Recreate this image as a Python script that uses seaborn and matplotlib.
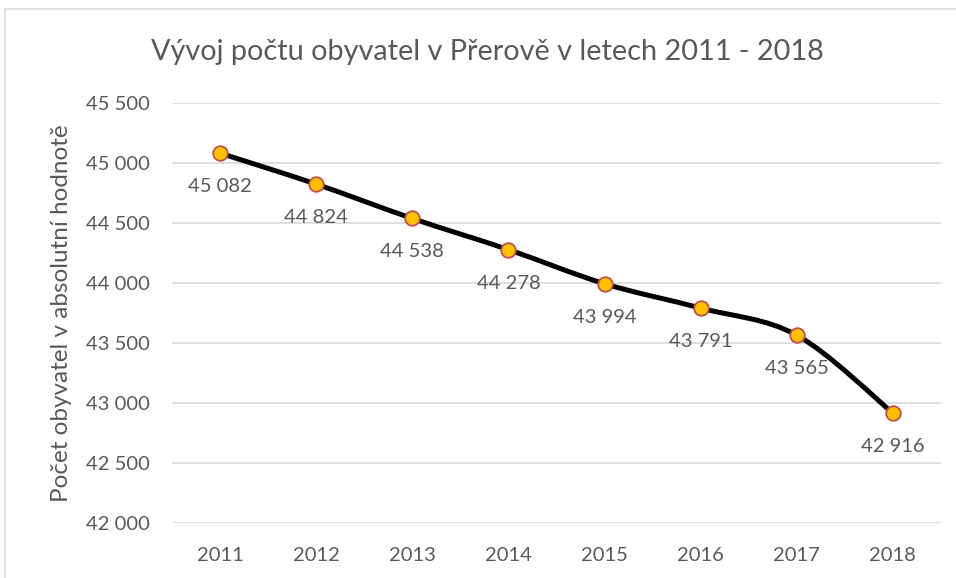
import numpy as np
import pandas as pd
import matplotlib
matplotlib.use("Agg")
import matplotlib.pyplot as plt
import seaborn as sns
from matplotlib.path import Path
from matplotlib.patches import PathPatch

# data
roky = ["2011", "2012", "2013", "2014", "2015", "2016", "2017", "2018"]
obyvatele = [45082, 44824, 44538, 44278, 43994, 43791, 43565, 42916]

title = "Vývoj počtu obyvatel v Přerově v letech 2011 - 2018"
ylabel = "Počet obyvatel v absolutní hodnotě"
yticks = [42000, 42500, 43000, 43500, 44000, 44500, 45000, 45500]

sns.set_style("white")
plt.rcParams["font.family"] = ["Lato", "DejaVu Sans"]

text_col = "#595959"
grid_col = "#D9D9D9"

df = pd.DataFrame({"rok": roky, "pocet": obyvatele})
df["x"] = np.arange(len(df))

fig = plt.figure(figsize=(9.56, 5.78), dpi=100)
ax = fig.add_axes([172 / 956, 1 - 523 / 578, (941 - 172) / 956, (523 - 103) / 578])

# smoothed line (Excel style bezier through the points)
pts = df[["x", "pocet"]].to_numpy(dtype=float)
verts = [pts[0]]
codes = [Path.MOVETO]
n = len(pts)
for i in range(n - 1):
    p0 = pts[max(i - 1, 0)]
    p1 = pts[i]
    p2 = pts[i + 1]
    p3 = pts[min(i + 2, n - 1)]
    c1 = p1 + (p2 - p0) / 6.0
    c2 = p2 - (p3 - p1) / 6.0
    verts += [c1, c2, p2]
    codes += [Path.CURVE4] * 3
ax.add_patch(PathPatch(Path(verts, codes), facecolor="none", edgecolor="black",
                       lw=3.6, capstyle="round", joinstyle="round", zorder=3))

sns.scatterplot(data=df, x="x", y="pocet", ax=ax, s=110, color="#FFC000",
                edgecolor="#C0504D", linewidth=1.3, zorder=4, legend=False)

for _, r in df.iterrows():
    ax.annotate(f"{r['pocet']:,}".replace(",", " "), (r["x"], r["pocet"]),
                xytext=(0, -18), textcoords="offset points", ha="center", va="top",
                fontsize=14.5, color=text_col)

ax.set_xlim(-0.5, n - 0.5)
ax.set_ylim(42000, 45500)
ax.set_xticks(df["x"])
ax.set_xticklabels(roky)
ax.set_yticks(yticks)
ax.set_yticklabels([f"{v:,}".replace(",", " ") for v in yticks])
ax.tick_params(axis="both", length=0, labelsize=14.5, labelcolor=text_col)
ax.tick_params(axis="y", pad=16)
ax.tick_params(axis="x", pad=17)
ax.yaxis.grid(True, color=grid_col, lw=1.2)
ax.set_axisbelow(True)
for s in ax.spines.values():
    s.set_visible(False)
ax.set_xlabel("")
ax.set_ylabel(ylabel, fontsize=17.5, color=text_col, labelpad=10)

fig.text(487 / 956, 1 - 52 / 578, title, ha="center", va="center", fontsize=20.8, color=text_col)

# chart area border
fig.patches.append(plt.Rectangle((5 / 956, -0.1), 1.2, 1 - 9 / 578 + 0.1, transform=fig.transFigure,
                                 fill=False, edgecolor=grid_col, lw=1.2))

fig.savefig("out.png", dpi=100)
